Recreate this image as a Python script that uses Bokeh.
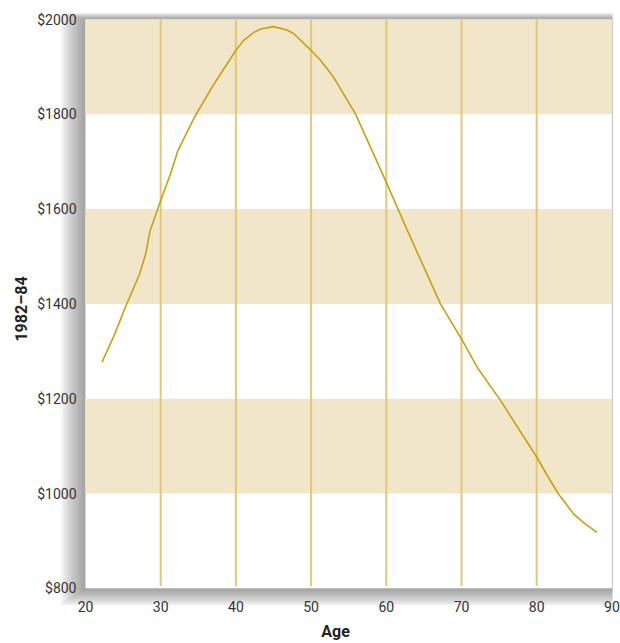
from bokeh.plotting import figure
from bokeh.models import Range1d, FixedTicker, CustomJSTickFormatter
from bokeh.embed import file_html
from bokeh.resources import INLINE

# ---- data ----
age = [22.2, 23.8, 25.3, 27.2, 28.0, 28.6, 30.0, 31.3, 32.3, 34.6, 37.1, 40.0,
       41.05, 42.4, 43.3, 45.0, 46.8, 47.7, 50.0, 51.3, 53.0, 55.9, 59.9,
       62.8, 67.2, 70.1, 72.1, 75.2, 80.0, 81.4, 82.9, 84.9, 86.2, 88.0]
income = [1277, 1333, 1393, 1463, 1505, 1555, 1618, 1674, 1724, 1797, 1864, 1935,
          1956, 1973, 1980, 1985, 1978, 1970, 1935, 1913, 1878, 1801, 1660,
          1555, 1400, 1323, 1266, 1196, 1077, 1038, 999, 957, 939, 918]
x_ticks = [20, 30, 40, 50, 60, 70, 80, 90]
y_ticks = [800, 1000, 1200, 1400, 1600, 1800, 2000]
band_bottoms = [1000, 1400, 1800]
band_tops = [1200, 1600, 2000]
grid_ages = [30, 40, 50, 60, 70, 80]

X0, X1, Y0, Y1 = 20, 90, 800, 2000

# pixel scales (frame)
PX_X = 7.52     # px per year
PX_Y = 0.474    # px per dollar

W, H = 620, 643
left_b, right_b, top_b, bottom_b = 58, 8, 12, 38
fw = W - left_b - right_b
fh = H - top_b - bottom_b
x_start = X0 - 27 / PX_X
x_end = x_start + fw / PX_X
y_end = Y1 + 7 / PX_Y
y_start = y_end - fh / PX_Y

p = figure(width=W, height=H, output_backend="svg", toolbar_location=None,
           x_range=Range1d(x_start, x_end), y_range=Range1d(y_start, y_end),
           min_border_left=left_b, min_border_right=right_b,
           min_border_top=top_b, min_border_bottom=bottom_b)
p.outline_line_color = None
p.xgrid.visible = False
p.ygrid.visible = False
p.background_fill_color = "white"
p.border_fill_color = "white"

# drop shadow (decor)
n = 20
for k in range(1, n + 1):
    p.quad(left=X0 - k * 1.25 / PX_X, right=X1 + k * 0.35 / PX_X,
           bottom=Y0 - k * 0.9 / PX_Y, top=Y1 + k * 0.35 / PX_Y,
           fill_color="#5a5c66", fill_alpha=0.04, line_color=None)

# plot area
p.quad(left=X0, right=X1, bottom=Y0, top=Y1, fill_color="white", line_color=None)
p.quad(left=[X0] * len(band_bottoms), right=[X1] * len(band_bottoms),
       bottom=band_bottoms, top=band_tops, fill_color="#F1E6C9", line_color=None)

# vertical lines
p.segment(x0=grid_ages, x1=grid_ages, y0=[Y0 + 5] * len(grid_ages), y1=[Y1] * len(grid_ages),
          line_color="#E3C77A", line_width=2)

# curve
p.line(age, income, line_color="#C9A010", line_width=1.6, line_join="round")

font = "Roboto"
p.xaxis.ticker = FixedTicker(ticks=x_ticks)
p.yaxis.ticker = FixedTicker(ticks=y_ticks)
p.yaxis.formatter = CustomJSTickFormatter(code="return '$' + tick;")
for ax in (p.xaxis[0], p.yaxis[0]):
    ax.axis_line_color = None
    ax.major_tick_line_color = None
    ax.minor_tick_line_color = None
    ax.major_tick_out = 0
    ax.major_tick_in = 0
    ax.major_label_text_font = font
    ax.major_label_text_font_size = "14px"
    ax.major_label_text_color = "#333333"
    ax.axis_label_text_font = font
    ax.axis_label_text_font_style = "bold"
    ax.axis_label_text_font_size = "16px"
    ax.axis_label_text_color = "#222222"
p.xaxis.axis_label = "Age"
p.yaxis.axis_label = "1982–84"
p.xaxis.major_label_standoff = -5
p.xaxis.axis_label_standoff = 7
p.yaxis.major_label_standoff = -18
p.yaxis.axis_label_standoff = 3

open("out.html", "w").write(file_html(p, INLINE))
